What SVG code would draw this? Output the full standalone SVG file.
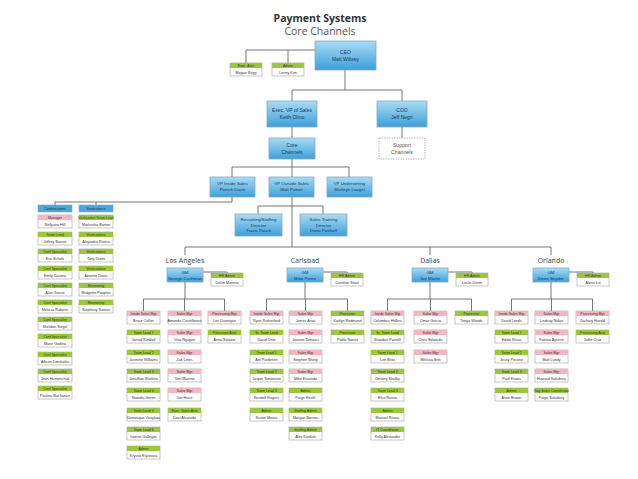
<svg xmlns="http://www.w3.org/2000/svg" width="638" height="479" viewBox="0 0 638 479">
<defs>
<linearGradient id="bg" x1="0" y1="0" x2="0" y2="1">
<stop offset="0" stop-color="#a8dcf5"/>
<stop offset="1" stop-color="#3e9fd8"/>
</linearGradient>
<style>
.t1{font-family:"Open Sans","Liberation Sans",sans-serif;font-weight:bold;font-size:10.5px;fill:#333;text-anchor:middle}
.t2{font-family:"Open Sans","Liberation Sans",sans-serif;font-size:10.5px;fill:#555;text-anchor:middle}
.loc{font-family:"Open Sans","Liberation Sans",sans-serif;font-size:7px;fill:#444;text-anchor:middle}
.bx{fill:url(#bg);stroke:#8aa9bd;stroke-width:0.8}
.bt{font-family:"Liberation Sans",sans-serif;font-size:5px;fill:#153a63;text-anchor:middle}
.gt{font-family:"Liberation Sans",sans-serif;font-size:4.4px;fill:#153a63;text-anchor:middle}
.sup{fill:#fff;stroke:#aaa;stroke-width:0.8;stroke-dasharray:1.5 1}
.st{font-family:"Liberation Sans",sans-serif;font-size:5.2px;fill:#555;text-anchor:middle}
.ib{fill:#fff;stroke:#a0a0a0;stroke-width:0.6}
.hg{fill:#9cc63f}
.hp{fill:#f5b5c1}
.hb{fill:#4ba6da;stroke:#8aa9bd;stroke-width:0.6}
.ht{font-family:"Liberation Sans",sans-serif;font-size:3.5px;fill:#333;text-anchor:middle}
.nt{font-family:"Liberation Sans",sans-serif;font-size:3.7px;fill:#333;text-anchor:middle}
.cn{fill:none;stroke:#666;stroke-width:0.9}
</style>
</defs>
<rect width="638" height="479" fill="#fff"/>
<text class="t1" x="320" y="22">Payment Systems</text>
<text class="t2" x="320" y="35">Core Channels</text>

<g id="connectors" class="cn">
<path d="M246,63 V50 H315 M288,50 V63"/>
<path d="M345,70 V90 M292,101 V90 H402 V101"/>
<path d="M292,127 V138 M402,127 V138"/>
<path d="M292,159 V177 M232,177 V167 H349 V177"/>
<path d="M232,197 V202 H55 V205 M96,202 V205"/>
<path d="M292,197 V247 M258,214 V206 H323 V214"/>
<path d="M185,255 V247 H551 V255 M430,247 V255"/>
<path d="M203,272 H227 V273 M323,272 H347 V273 M448,272 H472 V273 M569,272 H593 V273"/>
<path d="M185,282 V299 M143.5,311 V299 H224.5 V311 M184.5,299 V311"/>
<path d="M305,282 V299 M266.5,311 V299 H347.5 V311 M305.5,299 V311"/>
<path d="M430,282 V299 M387.5,311 V299 H471.5 V311 M430.5,299 V311"/>
<path d="M551,282 V299 M511.5,311 V299 H592.5 V311 M551.5,299 V311"/>
</g>

<g id="ceo"><rect class="bx" x="315" y="41" width="61" height="29"/><text class="bt" x="345.5" y="54">CEO</text><text class="bt" x="345.5" y="61">Matt Wiltsey</text></g>
<g id="exec-asst"><rect class="ib" x="230" y="63" width="32" height="13"/><rect class="hg" x="230" y="63" width="32" height="5"/><text class="ht" x="246" y="67">Exec. Asst</text><text class="nt" x="246" y="74">Megan Regg</text></g>
<g id="admin-top"><rect class="ib" x="272" y="63" width="32" height="13"/><rect class="hg" x="272" y="63" width="32" height="5"/><text class="ht" x="288" y="67">Admin</text><text class="nt" x="288" y="74">Lenny Kim</text></g>
<g id="exec-vp"><rect class="bx" x="267" y="101" width="50" height="26"/><text class="bt" x="292" y="112">Exec. VP of Sales</text><text class="bt" x="292" y="119">Keith Olmo</text></g>
<g id="coo"><rect class="bx" x="377" y="101" width="50" height="26"/><text class="bt" x="402" y="112">COO</text><text class="bt" x="402" y="119">Jeff Negri</text></g>
<g id="core-channels"><rect class="bx" x="269" y="138" width="46" height="21"/><text class="bt" x="292" y="147">Core</text><text class="bt" x="292" y="154">Channels</text></g>
<g id="support-channels"><rect class="sup" x="379" y="138" width="46" height="21"/><text class="st" x="402" y="147">Support</text><text class="st" x="402" y="154">Channels</text></g>
<g id="vp-inside"><rect class="bx" x="210" y="177" width="45" height="20"/><text class="gt" x="232.5" y="185">VP Inside Sales</text><text class="gt" x="232.5" y="191">Patrick Davis</text></g>
<g id="vp-outside"><rect class="bx" x="269" y="177" width="45" height="20"/><text class="gt" x="291.5" y="185">VP Outside Sales</text><text class="gt" x="291.5" y="191">Matt Patton</text></g>
<g id="vp-underwriting"><rect class="bx" x="327" y="177" width="45" height="20"/><text class="gt" x="349.5" y="185">VP Underwriting</text><text class="gt" x="349.5" y="191">Mathryn Laugel</text></g>
<g id="recruiting"><rect class="bx" x="235" y="214" width="47" height="22"/><text class="gt" x="258.5" y="221">Recruiting/Staffing</text><text class="gt" x="258.5" y="226.5">Director</text><text class="gt" x="258.5" y="232">Travis Pauck</text></g>
<g id="sales-training"><rect class="bx" x="300" y="214" width="47" height="22"/><text class="gt" x="323.5" y="221">Sales Training</text><text class="gt" x="323.5" y="226.5">Director</text><text class="gt" x="323.5" y="232">Dana Potthoff</text></g>

<!-- Left columns -->
<g id="confirmations"><rect class="hb" x="38" y="205" width="34" height="7"/><text class="ht" x="55" y="209.8">Confirmations</text></g>
<g id="verifications"><rect class="hb" x="79" y="205" width="34" height="7"/><text class="ht" x="96" y="209.8">Verifications</text></g>
<g id="conf-1"><rect class="ib" x="38" y="215" width="34" height="13"/><rect class="hp" x="38" y="215" width="34" height="5"/><text class="ht" x="55" y="219">Manager</text><text class="nt" x="55" y="226">Nellyana Hill</text></g>
<g id="conf-2"><rect class="ib" x="38" y="232" width="34" height="13"/><rect class="hg" x="38" y="232" width="34" height="5"/><text class="ht" x="55" y="236">Team Lead</text><text class="nt" x="55" y="243">Jeffrey Barron</text></g>
<g id="conf-3"><rect class="ib" x="38" y="249" width="34" height="13"/><rect class="hg" x="38" y="249" width="34" height="5"/><text class="ht" x="55" y="253">Conf Specialist</text><text class="nt" x="55" y="260">Eric Echols</text></g>
<g id="conf-4"><rect class="ib" x="38" y="266" width="34" height="13"/><rect class="hg" x="38" y="266" width="34" height="5"/><text class="ht" x="55" y="270">Conf Specialist</text><text class="nt" x="55" y="277">Emily Corona</text></g>
<g id="conf-5"><rect class="ib" x="38" y="283" width="34" height="13"/><rect class="hg" x="38" y="283" width="34" height="5"/><text class="ht" x="55" y="287">Conf Specialist</text><text class="nt" x="55" y="294">Alan Garcia</text></g>
<g id="conf-6"><rect class="ib" x="38" y="300" width="34" height="13"/><rect class="hg" x="38" y="300" width="34" height="5"/><text class="ht" x="55" y="304">Conf Specialist</text><text class="nt" x="55" y="311">Melissa Roberts</text></g>
<g id="conf-7"><rect class="ib" x="38" y="317" width="34" height="13"/><rect class="hg" x="38" y="317" width="34" height="5"/><text class="ht" x="55" y="321">Conf Specialist</text><text class="nt" x="55" y="328">Sheldon Siegel</text></g>
<g id="conf-8"><rect class="ib" x="38" y="334" width="34" height="13"/><rect class="hg" x="38" y="334" width="34" height="5"/><text class="ht" x="55" y="338">Conf Specialist</text><text class="nt" x="55" y="345">Marie Godina</text></g>
<g id="conf-9"><rect class="ib" x="38" y="352" width="34" height="13"/><rect class="hg" x="38" y="352" width="34" height="5"/><text class="ht" x="55" y="356">Conf Specialist</text><text class="nt" x="55" y="363">Allison Dimitrakis</text></g>
<g id="conf-10"><rect class="ib" x="38" y="369" width="34" height="13"/><rect class="hg" x="38" y="369" width="34" height="5"/><text class="ht" x="55" y="373">Conf Specialist</text><text class="nt" x="55" y="380">Jean Humenchuk</text></g>
<g id="conf-11"><rect class="ib" x="38" y="386" width="34" height="13"/><rect class="hg" x="38" y="386" width="34" height="5"/><text class="ht" x="55" y="390">Conf Specialist</text><text class="nt" x="55" y="397">Paulina Buchanan</text></g>
<g id="ver-1"><rect class="ib" x="79" y="215" width="34" height="13"/><rect class="hg" x="79" y="215" width="34" height="5"/><text class="ht" x="96" y="219">Verification Team Lead</text><text class="nt" x="96" y="226">Markesha Barton</text></g>
<g id="ver-2"><rect class="ib" x="79" y="232" width="34" height="13"/><rect class="hg" x="79" y="232" width="34" height="5"/><text class="ht" x="96" y="236">Verifications</text><text class="nt" x="96" y="243">Alejandro Rivera</text></g>
<g id="ver-3"><rect class="ib" x="79" y="249" width="34" height="13"/><rect class="hg" x="79" y="249" width="34" height="5"/><text class="ht" x="96" y="253">Verifications</text><text class="nt" x="96" y="260">Tony Dixon</text></g>
<g id="ver-4"><rect class="ib" x="79" y="266" width="34" height="13"/><rect class="hg" x="79" y="266" width="34" height="5"/><text class="ht" x="96" y="270">Verifications</text><text class="nt" x="96" y="277">Annette Davis</text></g>
<g id="ver-5"><rect class="ib" x="79" y="283" width="34" height="13"/><rect class="hg" x="79" y="283" width="34" height="5"/><text class="ht" x="96" y="287">Monitoring</text><text class="nt" x="96" y="294">Bridgette Peoples</text></g>
<g id="ver-6"><rect class="ib" x="79" y="300" width="34" height="13"/><rect class="hg" x="79" y="300" width="34" height="5"/><text class="ht" x="96" y="304">Monitoring</text><text class="nt" x="96" y="311">Stephany Santos</text></g>

<!-- Locations -->
<text class="loc" x="185" y="263">Los Angeles</text>
<text class="loc" x="305" y="263">Carlsbad</text>
<text class="loc" x="430" y="263">Dallas</text>
<text class="loc" x="551" y="263">Orlando</text>

<g id="la-gm"><rect class="bx" x="167" y="268" width="36" height="14"/><text class="gt" x="185" y="274">GM</text><text class="gt" x="185" y="279.5">George Cushman</text></g>
<g id="la-hr"><rect class="ib" x="211" y="273" width="32" height="13"/><rect class="hg" x="211" y="273" width="32" height="5"/><text class="ht" x="227" y="277">HR Admin</text><text class="nt" x="227" y="284">Dalan Moreno</text></g>
<g id="cb-gm"><rect class="bx" x="287" y="268" width="36" height="14"/><text class="gt" x="305" y="274">GM</text><text class="gt" x="305" y="279.5">Mike Perez</text></g>
<g id="cb-hr"><rect class="ib" x="331" y="273" width="32" height="13"/><rect class="hg" x="331" y="273" width="32" height="5"/><text class="ht" x="347" y="277">HR Admin</text><text class="nt" x="347" y="284">Caroline Strait</text></g>
<g id="da-gm"><rect class="bx" x="412" y="268" width="36" height="14"/><text class="gt" x="430" y="274">GM</text><text class="gt" x="430" y="279.5">Joe Martin</text></g>
<g id="da-hr"><rect class="ib" x="456" y="273" width="32" height="13"/><rect class="hg" x="456" y="273" width="32" height="5"/><text class="ht" x="472" y="277">HR Admin</text><text class="nt" x="472" y="284">Leslie Dixon</text></g>
<g id="or-gm"><rect class="bx" x="533" y="268" width="36" height="14"/><text class="gt" x="551" y="274">GM</text><text class="gt" x="551" y="279.5">Dean Snyder</text></g>
<g id="or-hr"><rect class="ib" x="577" y="273" width="32" height="13"/><rect class="hg" x="577" y="273" width="32" height="5"/><text class="ht" x="593" y="277">HR Admin</text><text class="nt" x="593" y="284">Alexa Lui</text></g>

<!-- Los Angeles columns -->
<g id="la-1-1"><rect class="ib" x="127" y="311" width="33" height="13"/><rect class="hp" x="127" y="311" width="33" height="5"/><text class="ht" x="143.5" y="315">Inside Sales Mgr</text><text class="nt" x="143.5" y="322">Bruce Collier</text></g>
<g id="la-1-2"><rect class="ib" x="127" y="330" width="33" height="13"/><rect class="hg" x="127" y="330" width="33" height="5"/><text class="ht" x="143.5" y="334">Team Lead 1</text><text class="nt" x="143.5" y="341">Jarrod Kimball</text></g>
<g id="la-1-3"><rect class="ib" x="127" y="350" width="33" height="13"/><rect class="hg" x="127" y="350" width="33" height="5"/><text class="ht" x="143.5" y="354">Team Lead 2</text><text class="nt" x="143.5" y="361">Jasmine Williams</text></g>
<g id="la-1-4"><rect class="ib" x="127" y="369" width="33" height="13"/><rect class="hg" x="127" y="369" width="33" height="5"/><text class="ht" x="143.5" y="373">Team Lead 3</text><text class="nt" x="143.5" y="380">Jonathan Watkins</text></g>
<g id="la-1-5"><rect class="ib" x="127" y="388" width="33" height="13"/><rect class="hg" x="127" y="388" width="33" height="5"/><text class="ht" x="143.5" y="392">Team Lead 4</text><text class="nt" x="143.5" y="399">Shanda Green</text></g>
<g id="la-1-6"><rect class="ib" x="127" y="408" width="33" height="13"/><rect class="hg" x="127" y="408" width="33" height="5"/><text class="ht" x="143.5" y="412">Team Lead 5</text><text class="nt" x="143.5" y="419">Dominique Vaughan</text></g>
<g id="la-1-7"><rect class="ib" x="127" y="427" width="33" height="13"/><rect class="hg" x="127" y="427" width="33" height="5"/><text class="ht" x="143.5" y="431">Team Lead 6</text><text class="nt" x="143.5" y="438">Ivonne Gallegos</text></g>
<g id="la-1-8"><rect class="ib" x="127" y="446" width="33" height="13"/><rect class="hg" x="127" y="446" width="33" height="5"/><text class="ht" x="143.5" y="450">Admin</text><text class="nt" x="143.5" y="457">Krystal Espinoza</text></g>
<g id="la-2-1"><rect class="ib" x="168" y="311" width="33" height="13"/><rect class="hp" x="168" y="311" width="33" height="5"/><text class="ht" x="184.5" y="315">Sales Mgr</text><text class="nt" x="184.5" y="322">Amanda Castellanos</text></g>
<g id="la-2-2"><rect class="ib" x="168" y="330" width="33" height="13"/><rect class="hp" x="168" y="330" width="33" height="5"/><text class="ht" x="184.5" y="334">Sales Mgr</text><text class="nt" x="184.5" y="341">Vina Nguyen</text></g>
<g id="la-2-3"><rect class="ib" x="168" y="350" width="33" height="13"/><rect class="hp" x="168" y="350" width="33" height="5"/><text class="ht" x="184.5" y="354">Sales Mgr</text><text class="nt" x="184.5" y="361">Zak Lines</text></g>
<g id="la-2-4"><rect class="ib" x="168" y="369" width="33" height="13"/><rect class="hp" x="168" y="369" width="33" height="5"/><text class="ht" x="184.5" y="373">Sales Mgr</text><text class="nt" x="184.5" y="380">Toni Martino</text></g>
<g id="la-2-5"><rect class="ib" x="168" y="388" width="33" height="13"/><rect class="hp" x="168" y="388" width="33" height="5"/><text class="ht" x="184.5" y="392">Sales Mgr</text><text class="nt" x="184.5" y="399">Joe Hurst</text></g>
<g id="la-2-6"><rect class="ib" x="168" y="408" width="33" height="13"/><rect class="hg" x="168" y="408" width="33" height="5"/><text class="ht" x="184.5" y="412">Exec. Sales Asst</text><text class="nt" x="184.5" y="419">Davi Alvarado</text></g>
<g id="la-3-1"><rect class="ib" x="208" y="311" width="33" height="13"/><rect class="hp" x="208" y="311" width="33" height="5"/><text class="ht" x="224.5" y="315">Processing Mgr</text><text class="nt" x="224.5" y="322">Lori Dunnigan</text></g>
<g id="la-3-2"><rect class="ib" x="208" y="330" width="33" height="13"/><rect class="hg" x="208" y="330" width="33" height="5"/><text class="ht" x="224.5" y="334">Processor Asst</text><text class="nt" x="224.5" y="341">Anna Salazar</text></g>

<!-- Carlsbad columns -->
<g id="cb-1-1"><rect class="ib" x="250" y="311" width="33" height="13"/><rect class="hp" x="250" y="311" width="33" height="5"/><text class="ht" x="266.5" y="315">Inside Sales Mgr</text><text class="nt" x="266.5" y="322">Ryan Rutherford</text></g>
<g id="cb-1-2"><rect class="ib" x="250" y="330" width="33" height="13"/><rect class="hg" x="250" y="330" width="33" height="5"/><text class="ht" x="266.5" y="334">Sr. Team Lead</text><text class="nt" x="266.5" y="341">David Ortiz</text></g>
<g id="cb-1-3"><rect class="ib" x="250" y="350" width="33" height="13"/><rect class="hg" x="250" y="350" width="33" height="5"/><text class="ht" x="266.5" y="354">Team Lead 1</text><text class="nt" x="266.5" y="361">Ani Pardenen</text></g>
<g id="cb-1-4"><rect class="ib" x="250" y="369" width="33" height="13"/><rect class="hg" x="250" y="369" width="33" height="5"/><text class="ht" x="266.5" y="373">Team Lead 2</text><text class="nt" x="266.5" y="380">Jasper Simonson</text></g>
<g id="cb-1-5"><rect class="ib" x="250" y="388" width="33" height="13"/><rect class="hg" x="250" y="388" width="33" height="5"/><text class="ht" x="266.5" y="392">Team Lead 3</text><text class="nt" x="266.5" y="399">Kendall Rogers</text></g>
<g id="cb-1-6"><rect class="ib" x="250" y="408" width="33" height="13"/><rect class="hg" x="250" y="408" width="33" height="5"/><text class="ht" x="266.5" y="412">Admin</text><text class="nt" x="266.5" y="419">Kristin Moore</text></g>
<g id="cb-2-1"><rect class="ib" x="289" y="311" width="33" height="13"/><rect class="hp" x="289" y="311" width="33" height="5"/><text class="ht" x="305.5" y="315">Sales Mgr</text><text class="nt" x="305.5" y="322">James Arias</text></g>
<g id="cb-2-2"><rect class="ib" x="289" y="330" width="33" height="13"/><rect class="hp" x="289" y="330" width="33" height="5"/><text class="ht" x="305.5" y="334">Sales Mgr</text><text class="nt" x="305.5" y="341">Joanne Tomasci</text></g>
<g id="cb-2-3"><rect class="ib" x="289" y="350" width="33" height="13"/><rect class="hp" x="289" y="350" width="33" height="5"/><text class="ht" x="305.5" y="354">Sales Mgr</text><text class="nt" x="305.5" y="361">Stephen Wong</text></g>
<g id="cb-2-4"><rect class="ib" x="289" y="369" width="33" height="13"/><rect class="hp" x="289" y="369" width="33" height="5"/><text class="ht" x="305.5" y="373">Sales Mgr</text><text class="nt" x="305.5" y="380">Mike Escondo</text></g>
<g id="cb-2-5"><rect class="ib" x="289" y="388" width="33" height="13"/><rect class="hg" x="289" y="388" width="33" height="5"/><text class="ht" x="305.5" y="392">Admin</text><text class="nt" x="305.5" y="399">Paige Heath</text></g>
<g id="cb-2-6"><rect class="ib" x="289" y="408" width="33" height="13"/><rect class="hg" x="289" y="408" width="33" height="5"/><text class="ht" x="305.5" y="412">Staffing Admin</text><text class="nt" x="305.5" y="419">Morgan Barnes</text></g>
<g id="cb-2-7"><rect class="ib" x="289" y="427" width="33" height="13"/><rect class="hg" x="289" y="427" width="33" height="5"/><text class="ht" x="305.5" y="431">Staffing Admin</text><text class="nt" x="305.5" y="438">Alex Kordish</text></g>
<g id="cb-3-1"><rect class="ib" x="331" y="311" width="33" height="13"/><rect class="hg" x="331" y="311" width="33" height="5"/><text class="ht" x="347.5" y="315">Processor</text><text class="nt" x="347.5" y="322">Kaitlyn Redmond</text></g>
<g id="cb-3-2"><rect class="ib" x="331" y="330" width="33" height="13"/><rect class="hg" x="331" y="330" width="33" height="5"/><text class="ht" x="347.5" y="334">Processor</text><text class="nt" x="347.5" y="341">Pablo Nunez</text></g>

<!-- Dallas columns -->
<g id="da-1-1"><rect class="ib" x="371" y="311" width="33" height="13"/><rect class="hp" x="371" y="311" width="33" height="5"/><text class="ht" x="387.5" y="315">Inside Sales Mgr</text><text class="nt" x="387.5" y="322">Columbus Hollins</text></g>
<g id="da-1-2"><rect class="ib" x="371" y="330" width="33" height="13"/><rect class="hg" x="371" y="330" width="33" height="5"/><text class="ht" x="387.5" y="334">Sr. Team Lead</text><text class="nt" x="387.5" y="341">Brandon Parnell</text></g>
<g id="da-1-3"><rect class="ib" x="371" y="350" width="33" height="13"/><rect class="hg" x="371" y="350" width="33" height="5"/><text class="ht" x="387.5" y="354">Team Lead 1</text><text class="nt" x="387.5" y="361">Lee Brito</text></g>
<g id="da-1-4"><rect class="ib" x="371" y="369" width="33" height="13"/><rect class="hg" x="371" y="369" width="33" height="5"/><text class="ht" x="387.5" y="373">Team Lead 2</text><text class="nt" x="387.5" y="380">Destiny Shelby</text></g>
<g id="da-1-5"><rect class="ib" x="371" y="388" width="33" height="13"/><rect class="hg" x="371" y="388" width="33" height="5"/><text class="ht" x="387.5" y="392">Team Lead 3</text><text class="nt" x="387.5" y="399">Elsa Rivera</text></g>
<g id="da-1-6"><rect class="ib" x="371" y="408" width="33" height="13"/><rect class="hg" x="371" y="408" width="33" height="5"/><text class="ht" x="387.5" y="412">Admin</text><text class="nt" x="387.5" y="419">Manuel Rivera</text></g>
<g id="da-1-7"><rect class="ib" x="371" y="427" width="33" height="13"/><rect class="hg" x="371" y="427" width="33" height="5"/><text class="ht" x="387.5" y="431">IT Coordinator</text><text class="nt" x="387.5" y="438">Kelly Alexander</text></g>
<g id="da-2-1"><rect class="ib" x="414" y="311" width="33" height="13"/><rect class="hp" x="414" y="311" width="33" height="5"/><text class="ht" x="430.5" y="315">Sales Mgr</text><text class="nt" x="430.5" y="322">Omar Garcia</text></g>
<g id="da-2-2"><rect class="ib" x="414" y="330" width="33" height="13"/><rect class="hp" x="414" y="330" width="33" height="5"/><text class="ht" x="430.5" y="334">Sales Mgr</text><text class="nt" x="430.5" y="341">Chris Edwards</text></g>
<g id="da-2-3"><rect class="ib" x="414" y="350" width="33" height="13"/><rect class="hp" x="414" y="350" width="33" height="5"/><text class="ht" x="430.5" y="354">Sales Mgr</text><text class="nt" x="430.5" y="361">Melissa Britt</text></g>
<g id="da-3-1"><rect class="ib" x="455" y="311" width="33" height="13"/><rect class="hg" x="455" y="311" width="33" height="5"/><text class="ht" x="471.5" y="315">Processor</text><text class="nt" x="471.5" y="322">Tonya Woods</text></g>

<!-- Orlando columns -->
<g id="or-1-1"><rect class="ib" x="495" y="311" width="33" height="13"/><rect class="hp" x="495" y="311" width="33" height="5"/><text class="ht" x="511.5" y="315">Inside Sales Mgr</text><text class="nt" x="511.5" y="322">David Leeds</text></g>
<g id="or-1-2"><rect class="ib" x="495" y="330" width="33" height="13"/><rect class="hg" x="495" y="330" width="33" height="5"/><text class="ht" x="511.5" y="334">Team Lead 1</text><text class="nt" x="511.5" y="341">Eddie Rivas</text></g>
<g id="or-1-3"><rect class="ib" x="495" y="350" width="33" height="13"/><rect class="hg" x="495" y="350" width="33" height="5"/><text class="ht" x="511.5" y="354">Team Lead 2</text><text class="nt" x="511.5" y="361">Jessy Pecone</text></g>
<g id="or-1-4"><rect class="ib" x="495" y="369" width="33" height="13"/><rect class="hg" x="495" y="369" width="33" height="5"/><text class="ht" x="511.5" y="373">Team Lead 3</text><text class="nt" x="511.5" y="380">Paul Evans</text></g>
<g id="or-1-5"><rect class="ib" x="495" y="388" width="33" height="13"/><rect class="hg" x="495" y="388" width="33" height="5"/><text class="ht" x="511.5" y="392">Admin</text><text class="nt" x="511.5" y="399">Arvin Brown</text></g>
<g id="or-2-1"><rect class="ib" x="535" y="311" width="33" height="13"/><rect class="hp" x="535" y="311" width="33" height="5"/><text class="ht" x="551.5" y="315">Sales Mgr</text><text class="nt" x="551.5" y="322">Lindsay Nolan</text></g>
<g id="or-2-2"><rect class="ib" x="535" y="330" width="33" height="13"/><rect class="hp" x="535" y="330" width="33" height="5"/><text class="ht" x="551.5" y="334">Sales Mgr</text><text class="nt" x="551.5" y="341">Katrina Aguirre</text></g>
<g id="or-2-3"><rect class="ib" x="535" y="350" width="33" height="13"/><rect class="hp" x="535" y="350" width="33" height="5"/><text class="ht" x="551.5" y="354">Sales Mgr</text><text class="nt" x="551.5" y="361">Matt Lundy</text></g>
<g id="or-2-4"><rect class="ib" x="535" y="369" width="33" height="13"/><rect class="hp" x="535" y="369" width="33" height="5"/><text class="ht" x="551.5" y="373">Sales Mgr</text><text class="nt" x="551.5" y="380">Howard Salisbury</text></g>
<g id="or-2-5"><rect class="ib" x="535" y="388" width="33" height="13"/><rect class="hg" x="535" y="388" width="33" height="5"/><text class="ht" x="551.5" y="392">Reg Sales Coordinator</text><text class="nt" x="551.5" y="399">Paige Salisbury</text></g>
<g id="or-3-1"><rect class="ib" x="576" y="311" width="33" height="13"/><rect class="hp" x="576" y="311" width="33" height="5"/><text class="ht" x="592.5" y="315">Processing Mgr</text><text class="nt" x="592.5" y="322">Zachary Hurold</text></g>
<g id="or-3-2"><rect class="ib" x="576" y="330" width="33" height="13"/><rect class="hg" x="576" y="330" width="33" height="5"/><text class="ht" x="592.5" y="334">Processing Asst</text><text class="nt" x="592.5" y="341">Jodie Cruz</text></g>
</svg>
